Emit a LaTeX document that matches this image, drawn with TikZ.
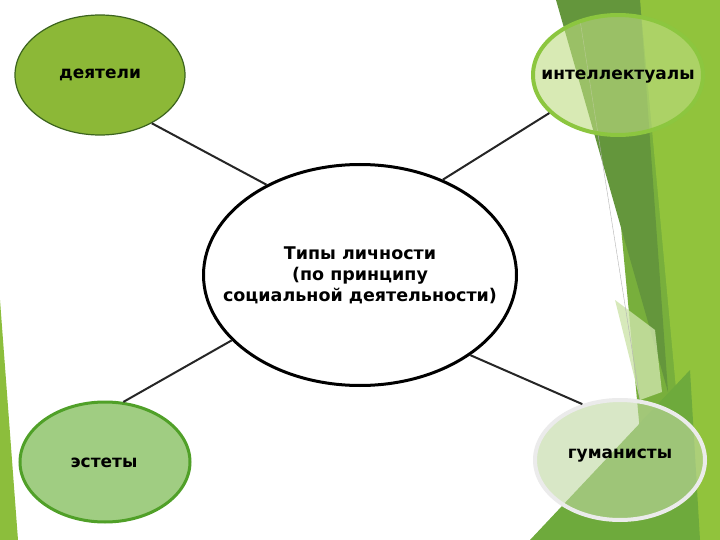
\documentclass[tikz,border=0pt]{standalone}
\usepackage{fontspec}
\setmainfont{DejaVu Sans}
\usetikzlibrary{shapes.geometric}
\begin{document}
\begin{tikzpicture}[x=1pt,y=-1pt,
  lbl/.style={font=\bfseries\fontsize{17}{20}\selectfont},
  oval/.style={ellipse,minimum width=170pt,minimum height=120pt,inner sep=0pt,line width=3pt},
  link/.style={line width=2pt,black!85}]
\useasboundingbox (0,0) rectangle (720,540);
\fill[white] (0,0) rectangle (720,540);
% background decoration
\fill[color={rgb,255:red,120;green,175;blue,60}] (600,0) -- (720,0) -- (720,540) -- (650,540) -- cycle;
\fill[color={rgb,255:red,145;green,195;blue,60}] (640,0) -- (720,0) -- (720,540) -- (690,540) -- cycle;
\fill[color={rgb,255:red,100;green,150;blue,60}] (556,0) -- (640,0) -- (668,392) -- cycle;
\fill[color={rgb,255:red,205;green,228;blue,170},opacity=.8] (615,300) -- (655,330) -- (662,392) -- (640,400) -- cycle;
\fill[color={rgb,255:red,110;green,170;blue,60}] (530,540) -- (690,370) -- (700,540) -- cycle;
\fill[color={rgb,255:red,140;green,190;blue,60}] (0,300) -- (18,540) -- (0,540) -- cycle;
\draw[gray!60,line width=.4pt] (580,20) -- (640,400);
% nodes
\node[oval,fill={rgb,255:red,140;green,184;blue,55},draw={rgb,255:red,60;green,100;blue,30},line width=1.2pt] (a) at (100,75) {};
\node[lbl] (ta) at (100,75) {деятели};
\node[oval,fill={rgb,255:red,190;green,220;blue,130},fill opacity=.6,draw={rgb,255:red,140;green,198;blue,63},line width=4pt] (b) at (618,75) {};
\node[lbl] (tb) at (618,77) {интеллектуалы};
\node[ellipse,minimum width=313pt,minimum height=221pt,draw,line width=3pt,fill=white,inner sep=0pt] (c) at (360,275) {};
\node[align=center,font=\bfseries\fontsize{17.5}{21}\selectfont] (tc) at (360,275) {Типы личности\\(по принципу\\социальной деятельности)};
\node[oval,fill={rgb,255:red,160;green,205;blue,130},draw={rgb,255:red,80;green,160;blue,40}] (d) at (105,462) {};
\node[lbl] (td) at (104,463) {эстеты};
\node[oval,fill={rgb,255:red,190;green,215;blue,160},fill opacity=.6,draw={rgb,255:red,235;green,235;blue,235},line width=4pt] (e) at (620,460) {};
\node[lbl] (te) at (620,456) {гуманисты};
% connectors
\draw[link] (a.-43) -- (c.136);
\draw[link] (b.209) -- (c.49);
\draw[link] (d.73) -- (c.207);
\draw[link] (e.124) -- (c.-36);
\end{tikzpicture}
\end{document}
